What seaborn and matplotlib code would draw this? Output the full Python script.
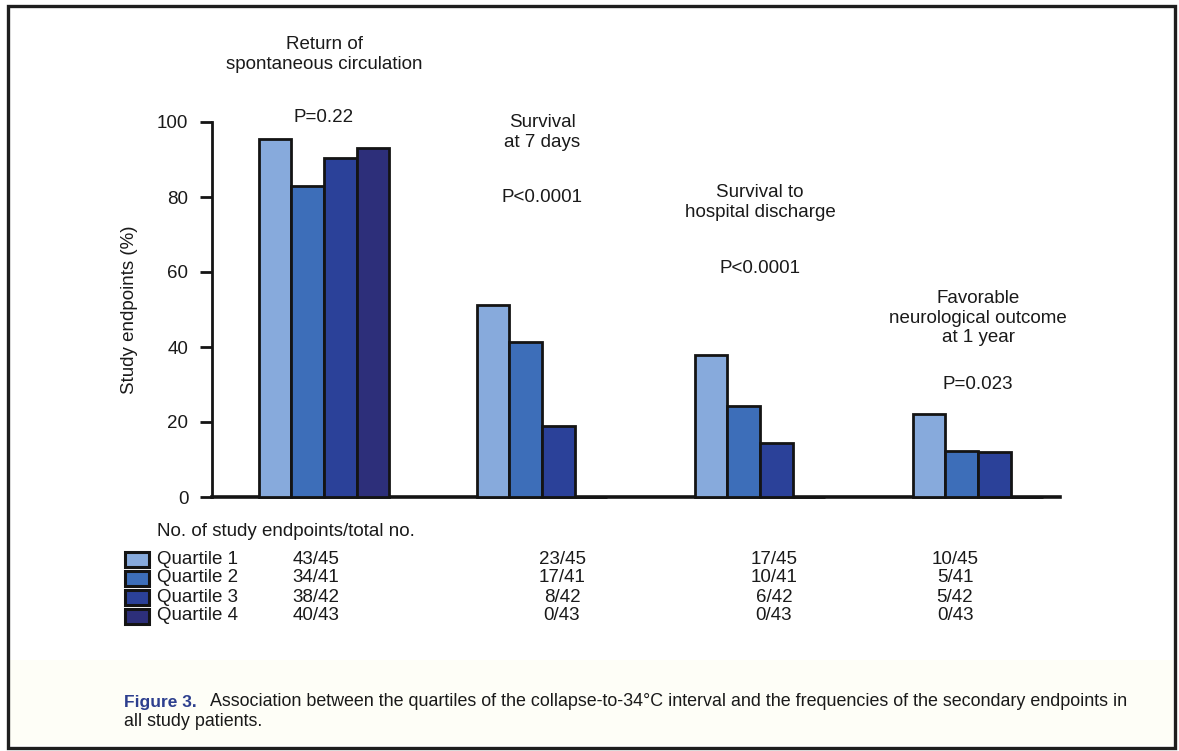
import matplotlib
matplotlib.use("Agg")
import matplotlib.pyplot as plt
from matplotlib.patches import Rectangle
import seaborn as sns
import pandas as pd

# Endpoints and quartile groups
endpoints = [
    "Return of\nspontaneous circulation",
    "Survival\nat 7 days",
    "Survival to\nhospital discharge",
    "Favorable\nneurological outcome\nat 1 year",
]
p_values = ["P=0.22", "P<0.0001", "P<0.0001", "P=0.023"]
quartiles = ["Quartile 1", "Quartile 2", "Quartile 3", "Quartile 4"]

# Number of patients reaching each endpoint, per quartile (rows) and endpoint (columns)
q1_events = [43, 23, 17, 10]
q2_events = [34, 17, 10, 5]
q3_events = [38, 8, 6, 5]
q4_events = [40, 0, 0, 0]
totals = [45, 41, 42, 43]

colors = ["#87aadc", "#3d6eb9", "#2b4199", "#2d2f7a"]

events = [q1_events, q2_events, q3_events, q4_events]
rows = []
for qi, q in enumerate(quartiles):
    for ei, ep in enumerate(endpoints):
        rows.append({"endpoint": ep, "quartile": q,
                     "pct": 100.0 * events[qi][ei] / totals[qi]})
df = pd.DataFrame(rows)

sns.set_theme(style="white")
plt.rcParams["font.family"] = ["Liberation Sans", "DejaVu Sans"]

W, H = 1179, 751
fig = plt.figure(figsize=(W / 100, H / 100), dpi=100)
ax = fig.add_axes([212 / W, 1 - 497 / H, (1060 - 212) / W, (497 - 122) / H])

sns.barplot(data=df, x="endpoint", y="pct", hue="quartile", order=endpoints,
            hue_order=quartiles, palette=colors, width=0.6, saturation=1,
            edgecolor="#141414", linewidth=2.0, legend=False, ax=ax)
# keep the outlines of empty bars visible on top of the baseline
for bar in ax.patches:
    bar.set_zorder(3)
    bar.set_clip_on(False)

ax.set_xlim(-0.514, 3.376)
ax.set_ylim(0, 100)
ax.set_yticks([0, 20, 40, 60, 80, 100])
ax.set_xticks([])
ax.set_xlabel("")
ax.set_ylabel("Study endpoints (%)", fontsize=13.5, color="#1a1a1a", labelpad=14)
ax.tick_params(axis="y", length=9, width=2.0, color="#141414", labelsize=13.5,
               labelcolor="#1a1a1a", pad=8, direction="out", left=True)
for side in ["top", "right"]:
    ax.spines[side].set_visible(False)
ax.spines["left"].set_linewidth(2.0)
ax.spines["left"].set_color("#141414")
ax.spines["bottom"].set_linewidth(2.6)
ax.spines["bottom"].set_color("#141414")
ax.set_facecolor("white")

# Endpoint titles and P values above each group
title_y = [118, 97.2, 78.5, 47.7]
p_y = [101.3, 80, 61, 30.1]
for i, (ep, pv) in enumerate(zip(endpoints, p_values)):
    ax.text(i, title_y[i], ep, ha="center", va="center", multialignment="center",
            fontsize=13.5, color="#1a1a1a", clip_on=False, linespacing=1.2)
    ax.text(i, p_y[i], pv, ha="center", va="center", fontsize=13.5,
            color="#1a1a1a", clip_on=False)

# Table of counts under the chart
def fy(ypix):
    return 1 - ypix / H

fig.text(157 / W, fy(532), "No. of study endpoints/total no.", ha="left",
         va="center", fontsize=13.5, color="#1a1a1a")
row_y = [559, 578, 597, 616]
col_x = [316, 562, 774, 955]
for qi, q in enumerate(quartiles):
    fig.patches.append(Rectangle((125 / W, fy(row_y[qi] + 7.5)), 24 / W, 15 / H,
                                 transform=fig.transFigure, facecolor=colors[qi],
                                 edgecolor="#141414", linewidth=2.2))
    fig.text(157 / W, fy(row_y[qi]), q, ha="left", va="center", fontsize=13.5,
             color="#1a1a1a")
    for ei in range(len(endpoints)):
        fig.text(col_x[ei] / W, fy(row_y[qi]), f"{events[qi][ei]}/{totals[qi]}",
                 ha="center", va="center", fontsize=13.5, color="#1a1a1a")

# Caption band and frame
fig.patches.append(Rectangle((10 / W, fy(745)), 1163 / W, 85 / H,
                             transform=fig.transFigure, facecolor="#fefef7",
                             edgecolor="none", zorder=-5))
fig.text(124 / W, fy(702), "Figure 3.", ha="left", va="center", fontsize=12.5,
         fontweight="bold", color="#2d3f8e",
         family=["Liberation Sans Narrow", "Liberation Sans", "DejaVu Sans"])
fig.text(210 / W, fy(702),
         "Association between the quartiles of the collapse-to-34°C interval and "
         "the frequencies of the secondary endpoints in",
         ha="left", va="center", fontsize=12.9, color="#1a1a1a")
fig.text(124 / W, fy(722), "all study patients.", ha="left", va="center",
         fontsize=12.9, color="#1a1a1a")
fig.patches.append(Rectangle((8 / W, fy(748)), 1167 / W, 742 / H,
                             transform=fig.transFigure, facecolor="none",
                             edgecolor="#1e1e1e", linewidth=2.4, zorder=10))

fig.savefig("out.png", dpi=100, facecolor="white")
